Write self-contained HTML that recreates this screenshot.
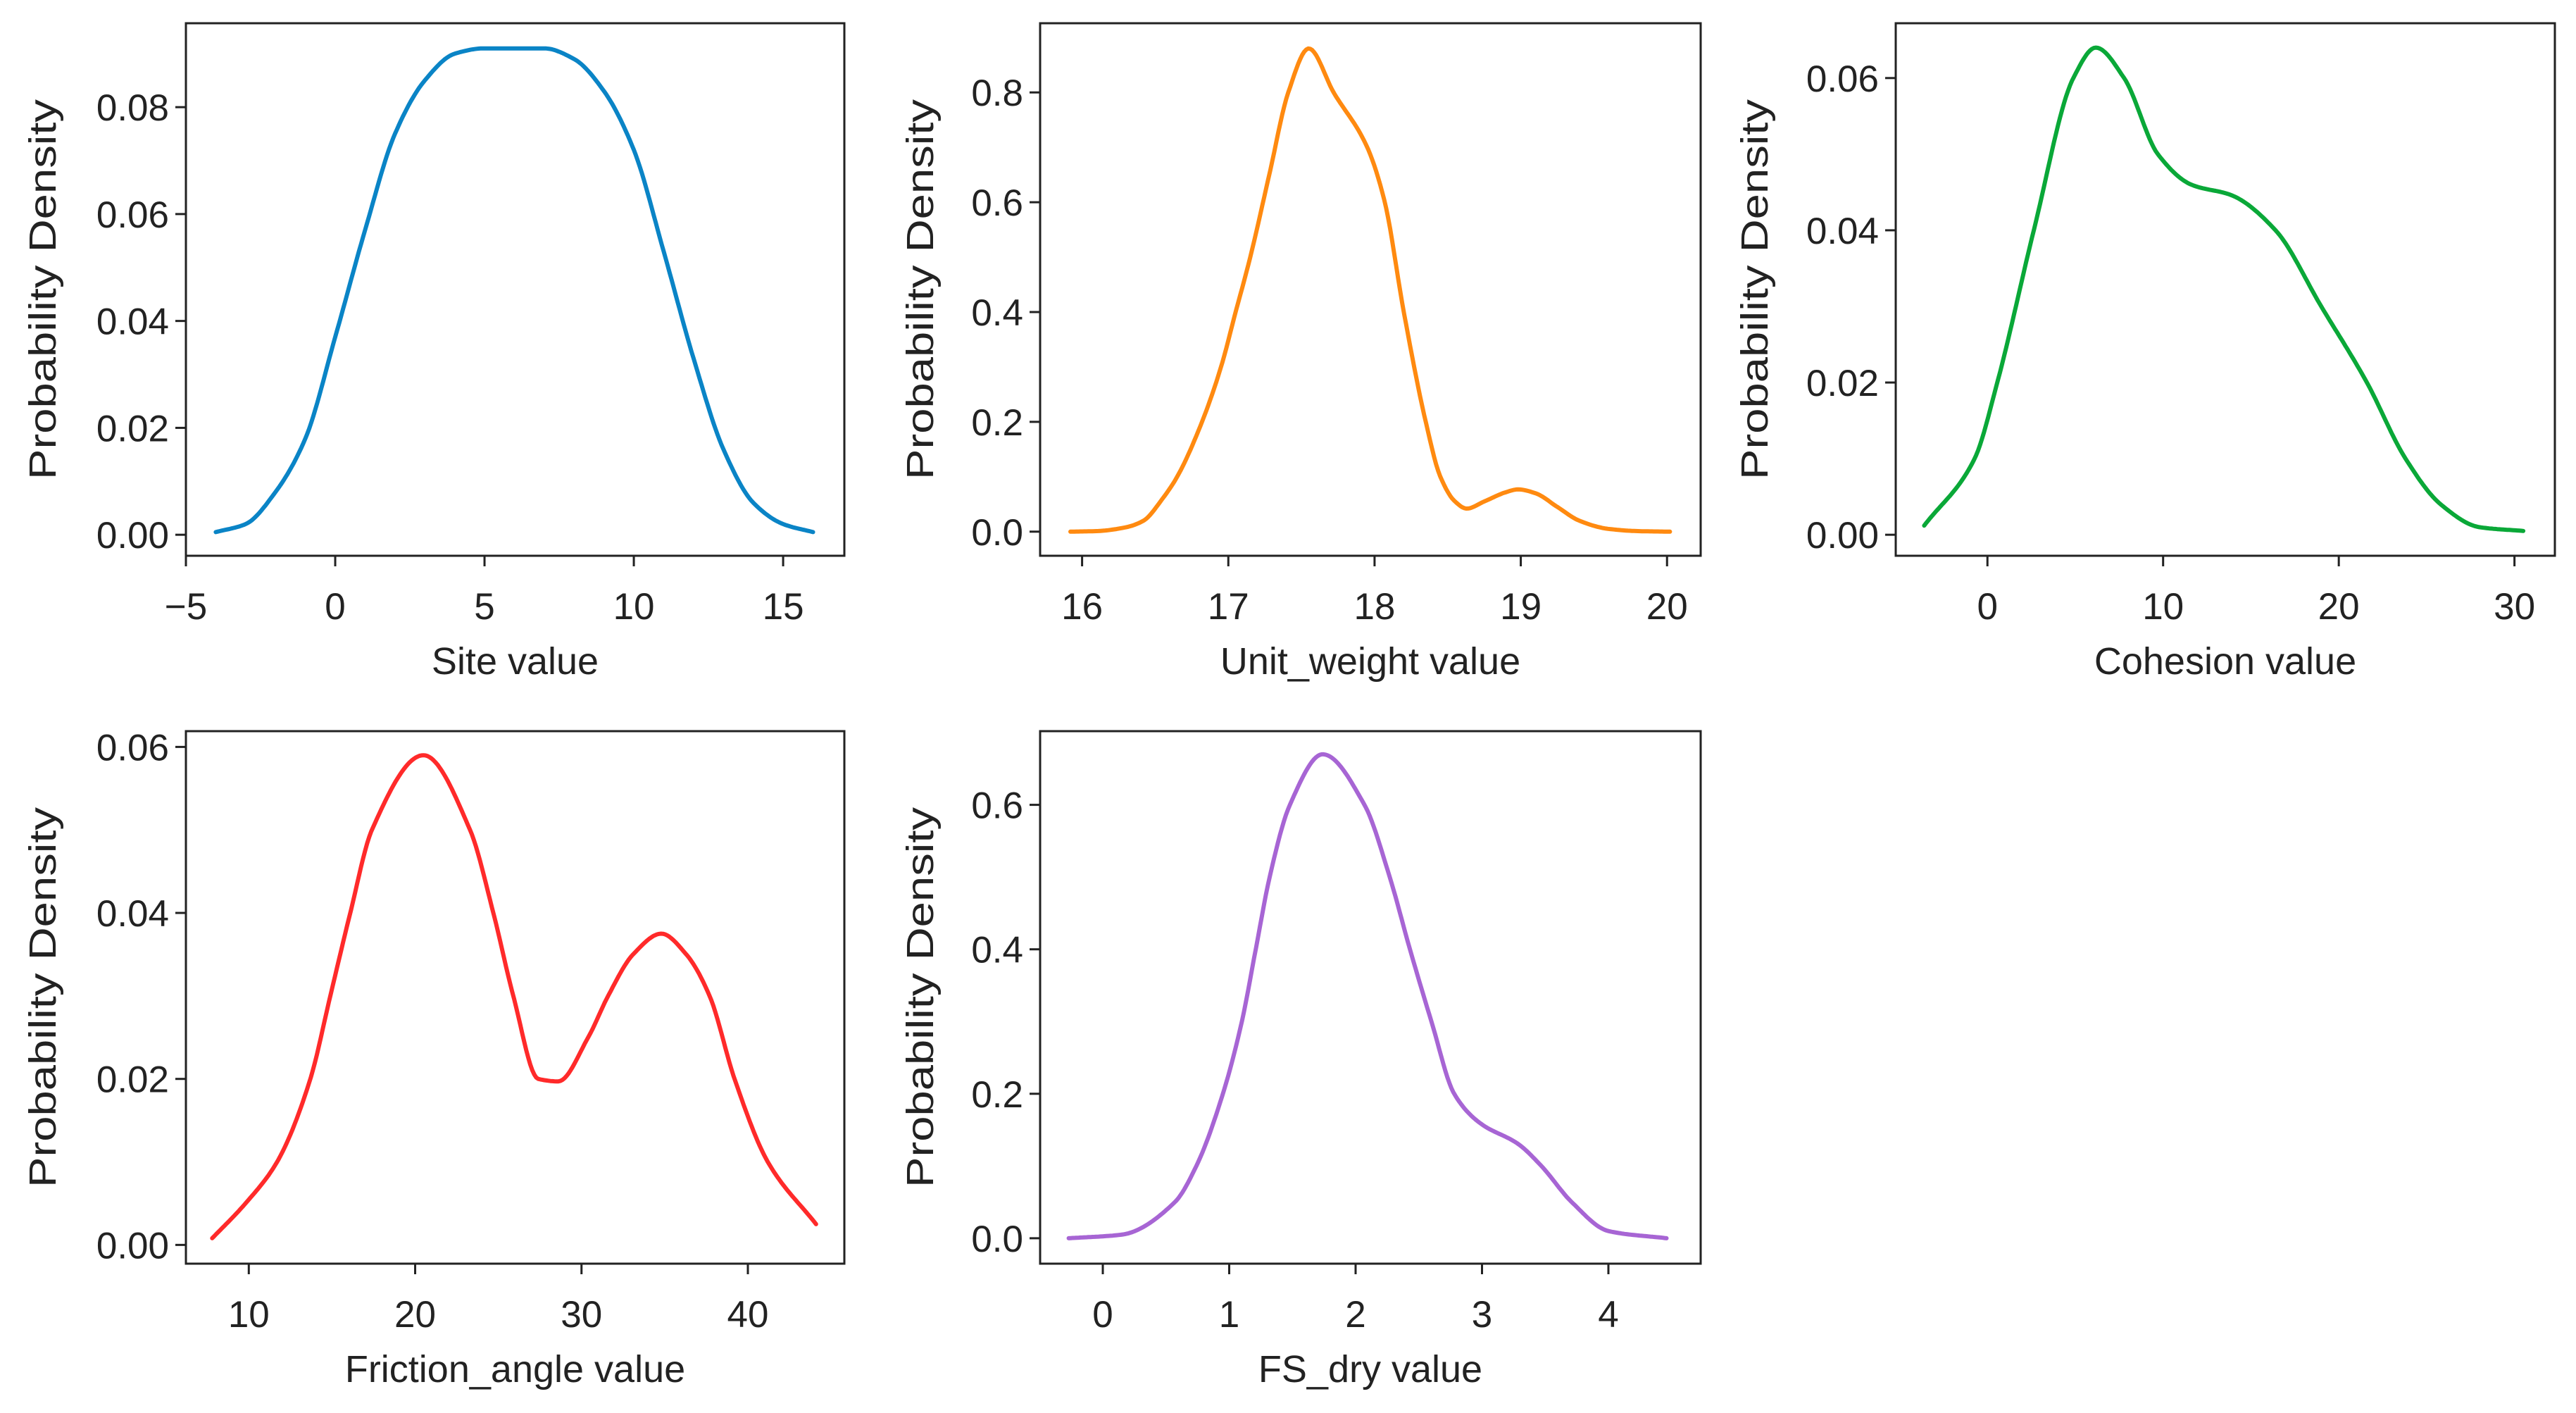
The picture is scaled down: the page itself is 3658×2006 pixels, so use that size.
<!DOCTYPE html>
<html><head><meta charset="utf-8"><style>
html,body{margin:0;padding:0;background:#fff;width:3658px;height:2006px;overflow:hidden}
svg{display:block}
text{font-family:"Liberation Sans","DejaVu Sans",sans-serif;fill:#222}
</style></head><body>
<svg id="fig" width="3658" height="2006" viewBox="0 0 3658 2006" xmlns="http://www.w3.org/2000/svg"></svg>
<script>
// ---- data ----
const siteX = [-4,-3,-2,-1,0,1,2,3,4,5,6,7,8,9,10,11,12,13,14,15,16];
const siteY = [0.0005,0.002,0.008,0.018,0.037,0.057,0.075,0.085,0.090,0.091,0.091,0.091,0.089,0.083,0.072,0.053,0.033,0.016,0.006,0.002,0.0005];
const unitX = [15.92,16.1,16.3,16.42,16.55,16.65,16.82,16.95,17.05,17.15,17.28,17.41,17.55,17.72,17.95,18.07,18.2,18.35,18.45,18.55,18.63,18.75,18.9,18.98,19.1,19.25,19.4,19.6,19.8,20.02];
const unitY = [0,0.001,0.008,0.02,0.06,0.1,0.2,0.3,0.4,0.5,0.65,0.8,0.88,0.8,0.7,0.6,0.4,0.2,0.1,0.055,0.042,0.055,0.072,0.077,0.07,0.045,0.02,0.005,0.001,0];
const cohX = [-3.6,-0.73,0.56,2.64,4.89,6.17,7.78,9.7,11.6,13.9,16.4,19.0,21.6,23.8,25.8,28,30.5];
const cohY = [0.0012,0.01,0.02,0.04,0.06,0.064,0.06,0.05,0.046,0.0446,0.04,0.03,0.02,0.01,0.004,0.001,0.0005];
const fricX = [7.8,9.8,11.7,13.7,14.9,16.1,17.4,20.5,23.3,24.7,25.9,27.4,28.6,30.4,31.6,33.1,34.8,36.3,37.7,39.2,41.2,44.1];
const fricY = [0.0008,0.005,0.01,0.02,0.03,0.04,0.05,0.059,0.05,0.04,0.03,0.02,0.0197,0.025,0.03,0.035,0.0375,0.035,0.03,0.02,0.01,0.0025];
const fsX = [-0.27,0.15,0.57,0.74,0.95,1.1,1.21,1.32,1.48,1.74,2.07,2.27,2.43,2.6,2.78,2.98,3.29,3.47,3.71,4.0,4.46];
const fsY = [0,0.005,0.05,0.1,0.2,0.3,0.4,0.5,0.6,0.67,0.6,0.5,0.4,0.3,0.2,0.16,0.13,0.1,0.05,0.01,0];
const siteXTicks = [-5,0,5,10,15];
const siteYTicks = [0,0.02,0.04,0.06,0.08];
const unitXTicks = [16,17,18,19,20];
const unitYTicks = [0,0.2,0.4,0.6,0.8];
const cohXTicks = [0,10,20,30];
const cohYTicks = [0,0.02,0.04,0.06];
const fricXTicks = [10,20,30,40];
const fricYTicks = [0,0.02,0.04,0.06];
const fsXTicks = [0,1,2,3,4];
const fsYTicks = [0,0.2,0.4,0.6];

const NS = "http://www.w3.org/2000/svg";
const svg = document.getElementById('fig');
function mk(tag, attrs, parent){
  const e = document.createElementNS(NS, tag);
  for (const k in attrs) e.setAttribute(k, attrs[k]);
  parent.appendChild(e); return e;
}
// monotone cubic (Fritsch-Carlson) interpolation
function monotone(xs, ys){
  const n = xs.length, d = [], m = new Array(n);
  for (let i=0;i<n-1;i++) d.push((ys[i+1]-ys[i])/(xs[i+1]-xs[i]));
  m[0]=d[0]; m[n-1]=d[n-2];
  for (let i=1;i<n-1;i++){
    if (d[i-1]*d[i] <= 0) m[i]=0;
    else {
      const h0=xs[i]-xs[i-1], h1=xs[i+1]-xs[i];
      const w1=2*h1+h0, w2=h1+2*h0;
      m[i]=(w1+w2)/(w1/d[i-1]+w2/d[i]);
    }
  }
  return function(x){
    let i=0; while (i<n-2 && x>xs[i+1]) i++;
    const h=xs[i+1]-xs[i], t=(x-xs[i])/h;
    const t2=t*t, t3=t2*t;
    return (2*t3-3*t2+1)*ys[i] + (t3-2*t2+t)*h*m[i] + (-2*t3+3*t2)*ys[i+1] + (t3-t2)*h*m[i+1];
  };
}
function panel(cfg){
  const g = mk('g', {}, svg);
  
  
  const {L,R,T,B,xmin,xmax,ymin,ymax} = cfg;
  const sx = v => L + (v - xmin) / (xmax - xmin) * (R - L);
  const sy = v => B - (v - ymin) / (ymax - ymin) * (B - T);
  const f = monotone(cfg.xs, cfg.ys);
  const x0 = cfg.xs[0], x1 = cfg.xs[cfg.xs.length-1], N = 300;
  let d = '';
  for (let k=0;k<=N;k++){
    const x = x0 + (x1-x0)*k/N;
    d += (k?'L':'M') + sx(x).toFixed(1) + ',' + sy(f(x)).toFixed(1);
  }
  const line = mk('path', {d: d, fill:'none', stroke: cfg.color, 'stroke-width':6, 'stroke-linejoin':'round', 'stroke-linecap':'round'}, g);
  
  
  const fr = mk('rect', {x:L, y:T, width:R-L, height:B-T, fill:'none', stroke:'#222', 'stroke-width':3}, g);
  
  
  cfg.xt.forEach(v=>{
    const x = sx(v);
    const tk = mk('line', {x1:x, x2:x, y1:B, y2:B+15, stroke:'#222', 'stroke-width':3}, g);
    
    
    const t = mk('text', {x:x, y:B+90, 'text-anchor':'middle', 'font-size':53}, g);
    t.textContent = v < 0 ? '\u2212' + Math.abs(v) : String(v);
    
    
  });
  cfg.yt.forEach(v=>{
    const y = sy(v);
    const tk = mk('line', {x1:L-15, x2:L, y1:y, y2:y, stroke:'#222', 'stroke-width':3}, g);
    
    
    const t = mk('text', {x:L-24, y:y+19, 'text-anchor':'end', 'font-size':53}, g);
    t.textContent = v.toFixed(cfg.dec);
    
    
  });
  const xl = mk('text', {x:(L+R)/2, y:B+168, 'text-anchor':'middle', 'font-size':54}, g);
  xl.textContent = cfg.xlabel;
  
  
  const cy = (T+B)/2;
  const yl = mk('text', {x:0, y:18, 'text-anchor':'middle', 'font-size':54, transform:`translate(${cfg.ylx},${cy}) rotate(-90)`, textLength:540, lengthAdjust:'spacingAndGlyphs'}, g);
  yl.textContent = 'Probability Density';
  
  
}
panel({name:'site', L:264,R:1199,T:33,B:789, xmin:-5,xmax:17.05, ymin:-0.00393,ymax:0.0957, xs:siteX, ys:siteY, xt:siteXTicks, yt:siteYTicks, dec:2, color:'#0a84c6', xlabel:'Site value', ylx:61});
panel({name:'unit-weight', L:1477,R:2415,T:33,B:789, xmin:15.713,xmax:20.23, ymin:-0.0439,ymax:0.926, xs:unitX, ys:unitY, xt:unitXTicks, yt:unitYTicks, dec:1, color:'#ff8a10', xlabel:'Unit_weight value', ylx:1307});
panel({name:'cohesion', L:2692,R:3628,T:33,B:789, xmin:-5.22,xmax:32.3, ymin:-0.00276,ymax:0.0672, xs:cohX, ys:cohY, xt:cohXTicks, yt:cohYTicks, dec:2, color:'#0aa838', xlabel:'Cohesion value', ylx:2492});
panel({name:'friction-angle', L:264,R:1199,T:1038,B:1794, xmin:6.22,xmax:45.8, ymin:-0.00226,ymax:0.0619, xs:fricX, ys:fricY, xt:fricXTicks, yt:fricYTicks, dec:2, color:'#ff2a2a', xlabel:'Friction_angle value', ylx:61});
panel({name:'fs-dry', L:1477,R:2415,T:1038,B:1794, xmin:-0.496,xmax:4.73, ymin:-0.0352,ymax:0.702, xs:fsX, ys:fsY, xt:fsXTicks, yt:fsYTicks, dec:1, color:'#a765d4', xlabel:'FS_dry value', ylx:1307});
</script>
</body></html>
